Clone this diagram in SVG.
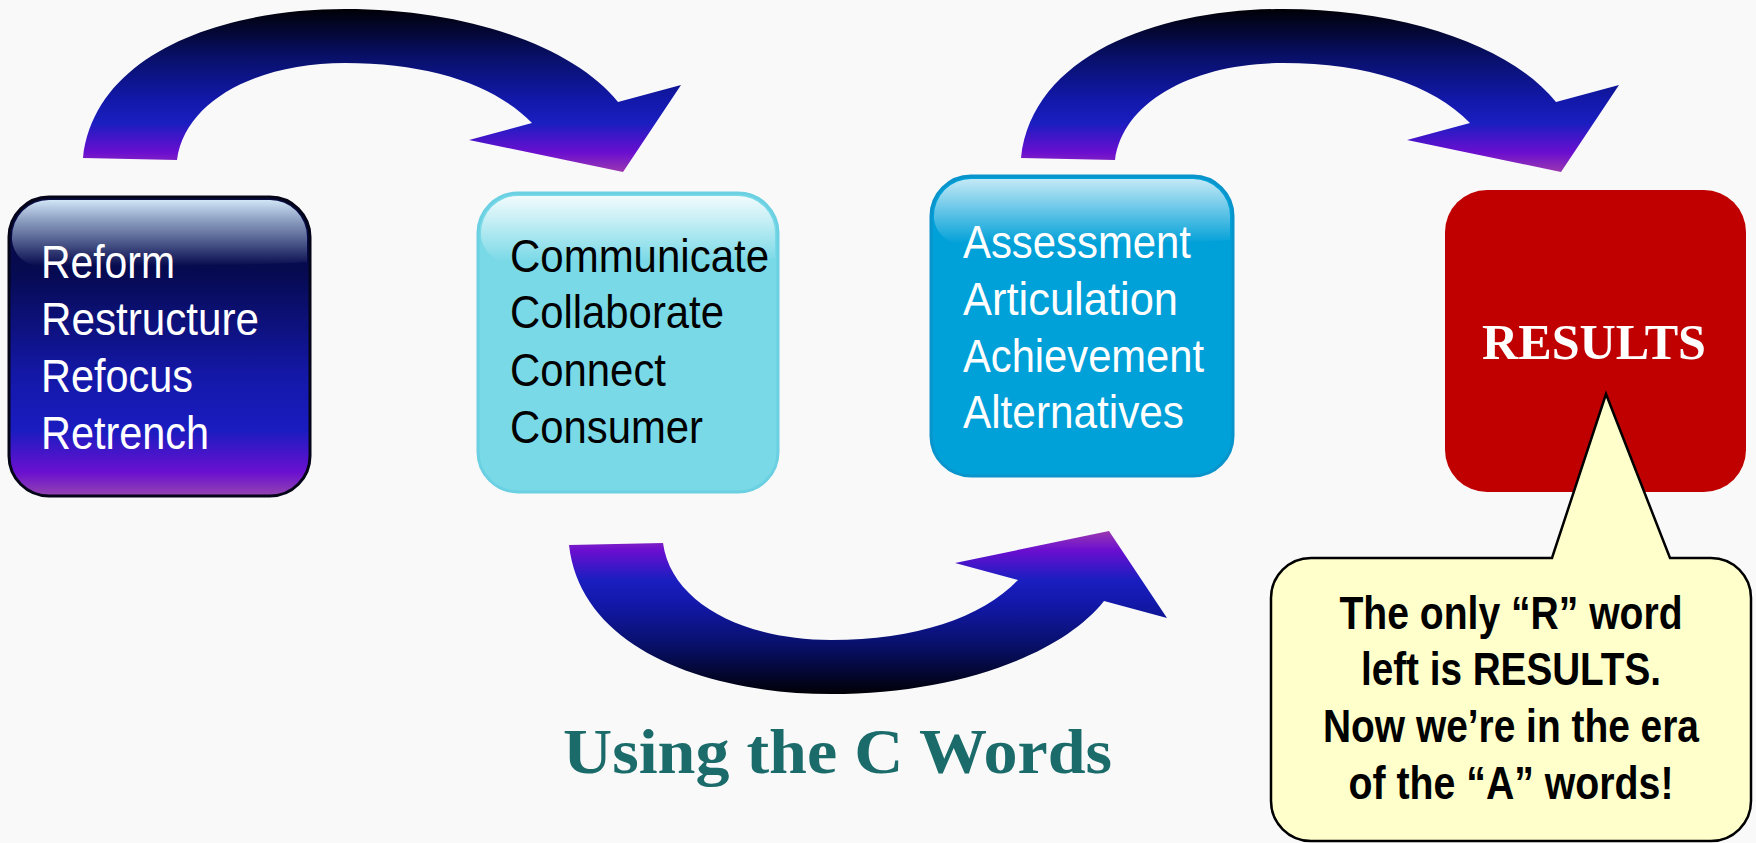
<svg xmlns="http://www.w3.org/2000/svg" xmlns:xlink="http://www.w3.org/1999/xlink" width="1756" height="843" viewBox="0 0 1756 843">
<style>
.bt{font-family:"Liberation Sans",Arial,sans-serif;font-size:46px}
.wt{fill:#ffffff}
.kt{fill:#000000}
.ct{font-family:"Liberation Sans",Arial,sans-serif;font-size:46px;font-weight:bold;fill:#000;text-anchor:middle}
</style>
<defs>
<linearGradient id="arrowGrad" gradientUnits="userSpaceOnUse" x1="0" y1="9" x2="0" y2="172">
<stop offset="0" stop-color="#000006"/>
<stop offset="0.3" stop-color="#08106a"/>
<stop offset="0.55" stop-color="#1218a8"/>
<stop offset="0.7" stop-color="#1a1ec0"/>
<stop offset="0.88" stop-color="#6a0ed0"/>
<stop offset="1" stop-color="#9a38b0"/>
</linearGradient>
<linearGradient id="box1Grad" x1="0" y1="0" x2="0" y2="1">
<stop offset="0" stop-color="#0a0c40"/>
<stop offset="0.25" stop-color="#060a50"/>
<stop offset="0.6" stop-color="#1418a8"/>
<stop offset="0.78" stop-color="#1a1cc0"/>
<stop offset="0.92" stop-color="#6a10d0"/>
<stop offset="1" stop-color="#9444b0"/>
</linearGradient>
<linearGradient id="glossGrad" x1="0" y1="0" x2="0" y2="1">
<stop offset="0" stop-color="#ffffff" stop-opacity="0.9"/>
<stop offset="1" stop-color="#ffffff" stop-opacity="0"/>
</linearGradient>
<linearGradient id="glossBlue" x1="0" y1="0" x2="0" y2="1">
<stop offset="0" stop-color="#d2e6f8" stop-opacity="1"/>
<stop offset="0.5" stop-color="#a8c0e0" stop-opacity="0.6"/>
<stop offset="1" stop-color="#a8c0e0" stop-opacity="0"/>
</linearGradient>
<path id="arrowShape" d="M83,158 C95,52 225,9 345,9 C470,9 575,48 618,102 L681,85 L623,172 L469,140 L532,123 C495,85 430,63 345,63 C258,63 185,100 177,160 Z"/>
</defs>
<rect width="1756" height="843" fill="#f9f9f9"/>

<g id="connectors">
<use xlink:href="#arrowShape" href="#arrowShape" fill="url(#arrowGrad)"/>
<use xlink:href="#arrowShape" href="#arrowShape" fill="url(#arrowGrad)" transform="translate(938,0)"/>
<use xlink:href="#arrowShape" href="#arrowShape" fill="url(#arrowGrad)" transform="translate(486,703) scale(1,-1)"/>
</g>

<g id="node-reform">
<rect x="9" y="197" width="301" height="299" rx="40" fill="url(#box1Grad)" stroke="#05051a" stroke-width="3"/>
<path d="M12,237 A37,37 0 0 1 49,200 L270,200 A37,37 0 0 1 307,237 L307,262 C250,266 100,266 40,266 A28,28 0 0 1 12,240 Z" fill="url(#glossBlue)"/>
<text class="bt wt" x="41" y="278" textLength="134" lengthAdjust="spacingAndGlyphs">Reform</text>
<text class="bt wt" x="41" y="335" textLength="218" lengthAdjust="spacingAndGlyphs">Restructure</text>
<text class="bt wt" x="41" y="392" textLength="152" lengthAdjust="spacingAndGlyphs">Refocus</text>
<text class="bt wt" x="41" y="449" textLength="168" lengthAdjust="spacingAndGlyphs">Retrench</text>
</g>

<g id="node-communicate">
<rect x="478" y="193" width="300" height="299" rx="40" fill="#79d9e7" stroke="#6ad0e2" stroke-width="3"/>
<path d="M481,233 A37,37 0 0 1 518,196 L738,196 A37,37 0 0 1 775,233 L775,258 C720,262 570,262 509,262 A28,28 0 0 1 481,236 Z" fill="url(#glossGrad)"/>
<text class="bt kt" x="510" y="272" textLength="259" lengthAdjust="spacingAndGlyphs">Communicate</text>
<text class="bt kt" x="510" y="328" textLength="214" lengthAdjust="spacingAndGlyphs">Collaborate</text>
<text class="bt kt" x="510" y="386" textLength="156" lengthAdjust="spacingAndGlyphs">Connect</text>
<text class="bt kt" x="510" y="443" textLength="193" lengthAdjust="spacingAndGlyphs">Consumer</text>
</g>

<g id="node-assessment">
<rect x="931" y="176" width="302" height="300" rx="40" fill="#00a0d8" stroke="#0a94cc" stroke-width="3"/>
<path d="M934,216 A37,37 0 0 1 971,179 L1193,179 A37,37 0 0 1 1230,216 L1230,240 C1175,244 1025,244 962,244 A28,28 0 0 1 934,219 Z" fill="url(#glossGrad)" opacity="0.85"/>
<text class="bt wt" x="963" y="258" textLength="228" lengthAdjust="spacingAndGlyphs">Assessment</text>
<text class="bt wt" x="963" y="315" textLength="215" lengthAdjust="spacingAndGlyphs">Articulation</text>
<text class="bt wt" x="963" y="372" textLength="241" lengthAdjust="spacingAndGlyphs">Achievement</text>
<text class="bt wt" x="963" y="428" textLength="221" lengthAdjust="spacingAndGlyphs">Alternatives</text>
</g>

<g id="node-results">
<rect x="1445" y="190" width="301" height="302" rx="42" fill="#c00000"/>
<text x="1594" y="359" font-family="'Liberation Serif','Times New Roman',serif" font-size="50" font-weight="bold" fill="#ffffff" text-anchor="middle" textLength="224" lengthAdjust="spacingAndGlyphs">RESULTS</text>
</g>

<g id="node-callout">
<path d="M1311,558 L1552,558 L1606,394 L1670,558 L1711,558 A40,40 0 0 1 1751,598 L1751,801 A40,40 0 0 1 1711,841 L1311,841 A40,40 0 0 1 1271,801 L1271,598 A40,40 0 0 1 1311,558 Z" fill="#ffffcc" stroke="#000000" stroke-width="2.5"/>
<text class="ct" x="1511" y="629" textLength="343" lengthAdjust="spacingAndGlyphs">The only “R” word</text>
<text class="ct" x="1511" y="685" textLength="300" lengthAdjust="spacingAndGlyphs">left is RESULTS.</text>
<text class="ct" x="1511" y="742" textLength="376" lengthAdjust="spacingAndGlyphs">Now we’re in the era</text>
<text class="ct" x="1511" y="799" textLength="325" lengthAdjust="spacingAndGlyphs">of the “A” words!</text>
</g>

<g id="title">
<text x="563" y="773" font-family="'Liberation Serif','Times New Roman',serif" font-size="64" font-weight="bold" fill="#1b6b6b" textLength="549" lengthAdjust="spacingAndGlyphs">Using the C Words</text>
</g>
</svg>
